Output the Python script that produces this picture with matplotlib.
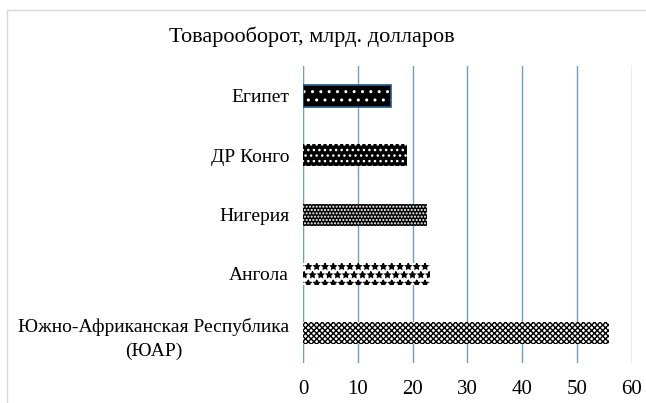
import matplotlib.pyplot as plt
from matplotlib.patches import Rectangle

plt.rcParams['font.family'] = ['Liberation Serif', 'DejaVu Serif']
plt.rcParams['hatch.linewidth'] = 1.0

# data, top to bottom as in the picture
countries = ['Египет', 'ДР Конго', 'Нигерия', 'Ангола',
             'Южно-Африканская Республика\n(ЮАР)']
turnover = [16.0, 18.9, 22.7, 23.2, 55.8]
ticks = [0, 10, 20, 30, 40, 50, 60]

faces = ['black', 'black', 'black', 'white', 'white']
hatch_cols = ['white', 'white', 'white', 'black', 'black']
hatches = ['..', '...', '.....', '**', 'xxxxxx']

fig = plt.figure(figsize=(6.46, 4.03), dpi=100)
ax = fig.add_axes([0.469, 0.099, 0.509, 0.737])

ypos = list(range(len(countries)))[::-1]
for y, v, fc, hc, h in zip(ypos, turnover, faces, hatch_cols, hatches):
    ax.barh(y, v, height=0.37, color=fc, edgecolor=hc, hatch=h, linewidth=0, zorder=3)
# Египет has a blue outline
ax.barh(ypos[0], turnover[0], height=0.37, fill=False, edgecolor='#1f5c8a',
        linewidth=1.2, zorder=4)

ax.set_xlim(0, 60)
ax.set_ylim(-0.5, len(countries) - 0.5)
ax.set_xticks(ticks)
ax.set_xticklabels([str(t) for t in ticks], fontsize=15)
ax.set_yticks(ypos)
ax.set_yticklabels(countries, fontsize=14, multialignment='center', linespacing=1.5)
ax.tick_params(length=0, pad=12)
ax.tick_params(axis='y', pad=10)

for s in ax.spines.values():
    s.set_visible(False)
ax.grid(axis='x', color='#6e9fbf', linewidth=1.0, zorder=0)
ax.axvline(0, color='#d9d9d9', linewidth=1.0, zorder=1)

fig.text(0.482, 0.91, 'Товарооборот, млрд. долларов', ha='center', va='center', fontsize=16)

# light frame around the chart
fig.patches.append(Rectangle((0.011, -0.01), 1.0, 0.985, transform=fig.transFigure,
                             fill=False, edgecolor='#d9d9d9', linewidth=1.0))

fig.savefig('out.png', dpi=100)
